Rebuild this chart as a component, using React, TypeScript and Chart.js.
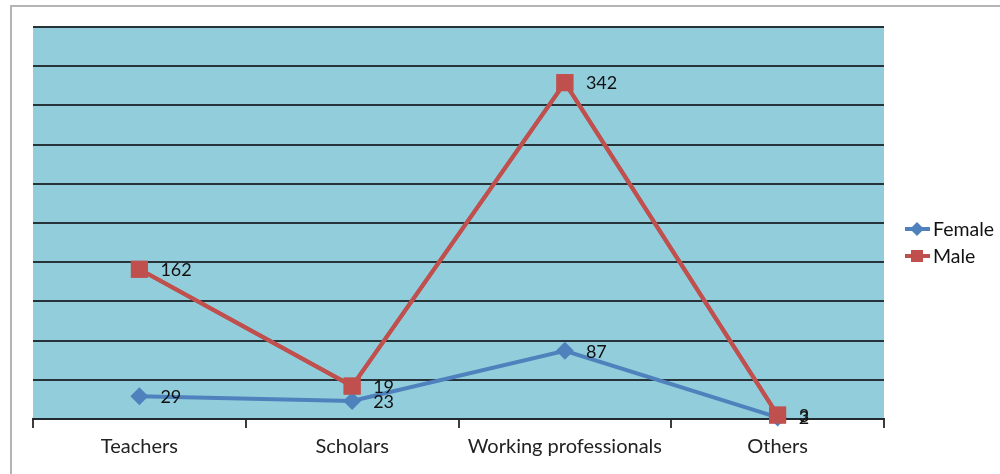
import React, { useEffect, useRef } from "react";
import { Chart, registerables } from "chart.js";

Chart.register(...registerables);

const categories = ["Teachers", "Scholars", "Working professionals", "Others"];
const femaleValues = [29, 23, 87, 2];
const maleValues = [162, 19, 342, 3];
const seriesNames = ["Female", "Male"];
const yMin = 0;
const yMax = 500;
const yStep = 50;

const BLUE = "#4F81BD";
const RED = "#C0504D";
const FONT = "Lato, 'DejaVu Sans', sans-serif";

const decorPlugin = {
  id: "decor",
  beforeDraw(chart: any) {
    const { ctx, chartArea, width, height } = chart;
    ctx.save();
    ctx.fillStyle = "#ffffff";
    ctx.fillRect(0, 0, width, height);
    // outer frame
    ctx.strokeStyle = "#b4b4b4";
    ctx.lineWidth = 2;
    ctx.beginPath();
    ctx.moveTo(11, height);
    ctx.lineTo(11, 6);
    ctx.lineTo(width, 6);
    ctx.stroke();
    // plot background
    ctx.fillStyle = "#92CDDC";
    ctx.fillRect(chartArea.left, chartArea.top, chartArea.right - chartArea.left, chartArea.bottom - chartArea.top);
    ctx.restore();
  },
  afterDatasetsDraw(chart: any) {
    const { ctx } = chart;
    // keep the Male series above the Female one
    chart.getDatasetMeta(1).controller.draw();

    ctx.save();
    ctx.font = `18px ${FONT}`;
    ctx.fillStyle = "#111";
    ctx.textAlign = "left";
    ctx.textBaseline = "middle";
    [0, 1].forEach((di) => {
      const meta = chart.getDatasetMeta(di);
      const vals = chart.data.datasets[di].data as number[];
      meta.data.forEach((pt: any, i: number) => {
        ctx.fillText(String(vals[i]), pt.x + 21, pt.y + 1);
      });
    });

    // legend
    ctx.font = `19.5px ${FONT}`;
    const items = [
      { label: seriesNames[0], color: BLUE, style: "diamond", y: 229 },
      { label: seriesNames[1], color: RED, style: "square", y: 256 },
    ];
    items.forEach((it) => {
      ctx.strokeStyle = it.color;
      ctx.fillStyle = it.color;
      ctx.lineWidth = 4;
      ctx.beginPath();
      ctx.moveTo(905, it.y);
      ctx.lineTo(930, it.y);
      ctx.stroke();
      ctx.beginPath();
      if (it.style === "diamond") {
        ctx.moveTo(917, it.y - 7);
        ctx.lineTo(924, it.y);
        ctx.lineTo(917, it.y + 7);
        ctx.lineTo(910, it.y);
        ctx.closePath();
      } else {
        ctx.rect(911, it.y - 6, 12, 12);
      }
      ctx.fill();
      ctx.fillStyle = "#111";
      ctx.fillText(it.label, 933, it.y + 1);
    });
    ctx.restore();
  },
};

export default function App() {
  const canvasRef = useRef<HTMLCanvasElement | null>(null);

  useEffect(() => {
    if (!canvasRef.current) return;
    const chart = new Chart(canvasRef.current, {
      type: "line",
      data: {
        labels: categories,
        datasets: [
          {
            label: seriesNames[0],
            data: femaleValues,
            borderColor: BLUE,
            backgroundColor: BLUE,
            borderWidth: 4,
            pointStyle: "rectRot",
            pointRadius: 9,
            pointBorderWidth: 0,
            tension: 0,
            clip: false,
          },
          {
            label: seriesNames[1],
            data: maleValues,
            borderColor: RED,
            backgroundColor: RED,
            borderWidth: 4,
            pointStyle: "rect",
            pointRadius: 12,
            pointBorderWidth: 0,
            tension: 0,
            clip: false,
          },
        ],
      },
      options: {
        responsive: false,
        animation: false,
        layout: { padding: { top: 27, right: 116, left: 0, bottom: 0 } },
        plugins: { legend: { display: false }, tooltip: { enabled: false } },
        scales: {
          x: {
            type: "category",
            offset: true,
            grid: {
              offset: true,
              drawOnChartArea: false,
              drawTicks: true,
              tickLength: 9,
              color: "#3c3c3c",
              lineWidth: 2,
            },
            border: { display: true, color: "#222a2e", width: 2 },
            ticks: {
              font: { family: FONT, size: 20 },
              color: "#222",
              padding: 7,
              maxRotation: 0,
            },
            afterFit(scale: any) {
              scale.height = 55;
            },
          },
          y: {
            stacked: true,
            min: yMin,
            max: yMax,
            ticks: { stepSize: yStep, display: false },
            grid: { color: "#26343a", lineWidth: 2, drawTicks: false },
            border: { display: false },
            afterFit(scale: any) {
              scale.width = 33;
            },
          },
        },
      },
      plugins: [decorPlugin],
    });
    return () => chart.destroy();
  }, []);

  return (
    <div style={{ position: "absolute", left: 0, top: 0, width: 1000, height: 474 }}>
      <canvas ref={canvasRef} width={1000} height={474} style={{ display: "block" }} />
    </div>
  );
}
